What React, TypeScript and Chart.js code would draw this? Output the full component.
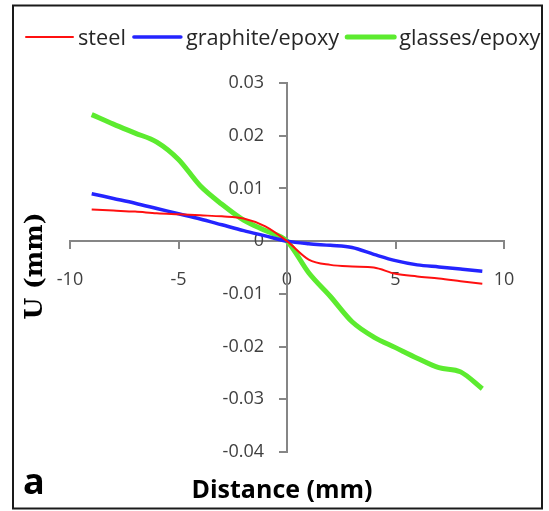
import React, { useEffect, useRef } from "react";
import { Chart, registerables } from "chart.js";

Chart.register(...registerables);

// ---- data ----
const distance = [-9, -8, -7, -6, -5, -4, -3, -2, -1, 0, 1, 2, 3, 4, 5, 6, 7, 8, 9];
const steel = [0.006, 0.0058, 0.0056, 0.0053, 0.0051, 0.0049, 0.0047, 0.0043, 0.0028, 0, -0.0035, -0.0045, -0.0048, -0.005, -0.0062, -0.0067, -0.0071, -0.0076, -0.0081];
const graphiteEpoxy = [0.009, 0.0081, 0.0072, 0.0062, 0.0052, 0.0042, 0.0031, 0.002, 0.001, 0, -0.0005, -0.0008, -0.0012, -0.0025, -0.0037, -0.0045, -0.0049, -0.0053, -0.0057];
const glassesEpoxy = [0.024, 0.0222, 0.0205, 0.0188, 0.0155, 0.0105, 0.007, 0.004, 0.002, 0, -0.006, -0.0105, -0.0153, -0.0182, -0.0202, -0.0222, -0.024, -0.0248, -0.028];
const seriesLabels = ["steel", "graphite/epoxy", "glasses/epoxy"];
const xTicks = [-10, -5, 0, 5, 10];
const yTicks = [-0.04, -0.03, -0.02, -0.01, 0, 0.01, 0.02, 0.03];
const xTitle = "Distance (mm)";
const yTitle = "U (mm)";
const panelLabel = "a";

const W = 549;
const H = 511;
const Y_LABEL_GAP = 23;

const yLabelShiftPlugin = {
  id: "yLabelShift",
  beforeDraw(chart: any) {
    const ys = chart.scales.y;
    const axisX = chart.scales.x.getPixelForValue(0);
    const items = ys.getLabelItems(chart.chartArea);
    items.forEach((it: any) => {
      it.options.translation[0] = axisX - Y_LABEL_GAP;
    });
  },
};

const decorPlugin = {
  id: "decor",
  afterDraw(chart: any) {
    const ctx = chart.ctx as CanvasRenderingContext2D;
    ctx.save();
    // legend
    ctx.font = "21.7px 'Open Sans'";
    ctx.textBaseline = "alphabetic";
    ctx.textAlign = "left";
    let x = 26;
    chart.data.datasets.forEach((ds: any) => {
      ctx.beginPath();
      ctx.strokeStyle = ds.borderColor;
      ctx.lineWidth = ds.borderWidth;
      ctx.lineCap = "round";
      ctx.moveTo(x, 37);
      ctx.lineTo(x + 47, 37);
      ctx.stroke();
      ctx.fillStyle = "#262626";
      ctx.fillText(ds.label, x + 52, 45);
      x = x + 52 + ctx.measureText(ds.label).width + 8;
    });
    // x title
    ctx.fillStyle = "#000";
    ctx.font = "bold 25px 'Open Sans'";
    ctx.textAlign = "center";
    ctx.fillText(xTitle, 282, 498);
    // panel label
    ctx.font = "bold 36px 'Open Sans'";
    ctx.textAlign = "left";
    ctx.fillText(panelLabel, 23, 494);
    // y title
    ctx.save();
    ctx.translate(42, 266);
    ctx.rotate(-Math.PI / 2);
    ctx.font = "bold 25px 'DejaVu Serif'";
    ctx.textAlign = "center";
    ctx.fillText(yTitle, 0, 0);
    ctx.restore();
    // frame
    ctx.strokeStyle = "#1a1a1a";
    ctx.lineWidth = 2;
    ctx.strokeRect(13, 5.5, 529, 503);
    ctx.restore();
  },
};

export default function App() {
  const ref = useRef<HTMLCanvasElement | null>(null);
  useEffect(() => {
    if (!ref.current) return;
    const mk = (vals: number[]) => distance.map((d, i) => ({ x: d, y: vals[i] }));
    const axisColor = "#868686";
    const tickFont = { family: "'Open Sans'", size: 18 };
    const chart = new Chart(ref.current, {
      type: "line",
      data: {
        datasets: [
          { label: seriesLabels[0], data: mk(steel), borderColor: "#FF1010", borderWidth: 2, pointRadius: 0, cubicInterpolationMode: "monotone" },
          { label: seriesLabels[1], data: mk(graphiteEpoxy), borderColor: "#2424FF", borderWidth: 3.5, pointRadius: 0, cubicInterpolationMode: "monotone" },
          { label: seriesLabels[2], data: mk(glassesEpoxy), borderColor: "#5CEB2F", borderWidth: 5, pointRadius: 0, cubicInterpolationMode: "monotone" },
        ],
      },
      options: {
        animation: false,
        responsive: false,
        layout: { padding: { left: 70, right: 45, top: 83, bottom: 59 } },
        plugins: { legend: { display: false }, tooltip: { enabled: false } },
        scales: {
          x: {
            type: "linear",
            min: -10,
            max: 10,
            position: { y: 0 } as any,
            afterBuildTicks: (axis: any) => { axis.ticks = xTicks.map((v) => ({ value: v })); },
            grid: { display: true, drawOnChartArea: false, drawTicks: true, tickLength: 7, color: axisColor, lineWidth: 2 },
            border: { display: true, color: axisColor, width: 2 },
            ticks: { color: "#404040", font: tickFont, padding: 21, maxRotation: 0, callback: (v: any) => String(v) },
          },
          y: {
            type: "linear",
            min: -0.04,
            max: 0.03,
            position: { x: 0 } as any,
            afterBuildTicks: (axis: any) => { axis.ticks = yTicks.map((v) => ({ value: v })); },
            grid: { display: true, drawOnChartArea: false, drawTicks: true, tickLength: 7, color: axisColor, lineWidth: 2 },
            border: { display: true, color: axisColor, width: 2 },
            ticks: { color: "#404040", font: tickFont, padding: 16, callback: (v: any) => String(Number(Number(v).toFixed(2))) },
          },
        },
      },
      plugins: [yLabelShiftPlugin, decorPlugin],
    } as any);
    return () => chart.destroy();
  }, []);
  return (
    <div style={{ position: "absolute", left: 0, top: 0, width: W, height: H, background: "#fff" }}>
      <canvas ref={ref} width={W} height={H} style={{ width: W, height: H, display: "block" }} />
    </div>
  );
}
